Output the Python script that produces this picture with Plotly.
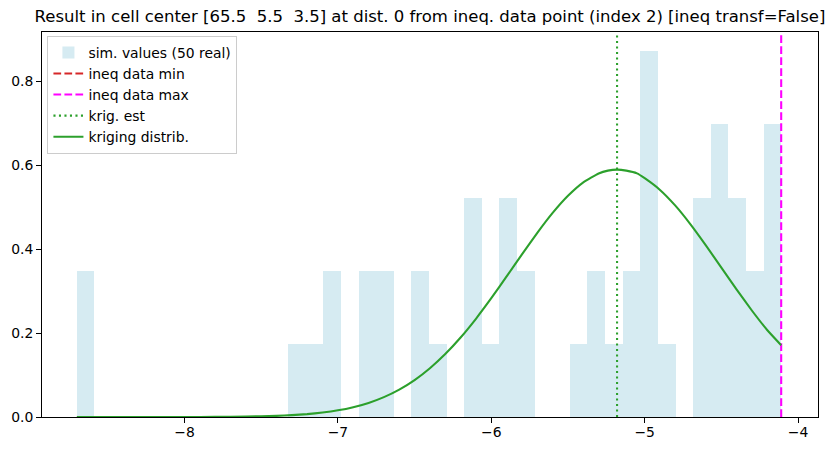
import plotly.graph_objects as go

# ---------------- data ----------------
n_real = 50
hist_min = -8.702
hist_max = -4.11
hist_counts = [2, 0, 0, 0, 0, 0, 0, 0, 0, 0, 0, 0, 1, 1, 2, 0, 2, 2, 0, 2,
               1, 0, 3, 1, 3, 2, 0, 0, 1, 2, 1, 2, 5, 1, 0, 3, 4, 3, 2, 4]

ineq_max = -4.11
krig_est = -5.18

krig_x = [-8.702, -8.5, -8.2, -8.0, -7.8, -7.6, -7.4, -7.3, -7.2, -7.1, -7.0,
          -6.9, -6.8, -6.7, -6.6, -6.5, -6.4, -6.3, -6.2, -6.1, -6.0, -5.9,
          -5.8, -5.7, -5.6, -5.5, -5.4, -5.3, -5.24, -5.18, -5.12, -5.05,
          -5.0, -4.9, -4.8, -4.7, -4.6, -4.5, -4.4, -4.3, -4.2, -4.11]
krig_y = [0.0, 0.0, 0.00003, 0.0001, 0.0003, 0.001, 0.0027, 0.0044, 0.0069,
          0.0106, 0.0159, 0.0234, 0.0336, 0.0474, 0.0653, 0.088, 0.1162,
          0.1499, 0.1893, 0.2339, 0.2828, 0.3346, 0.3873, 0.4385, 0.4859,
          0.5267, 0.5587, 0.5798, 0.5866, 0.589, 0.5866, 0.5801,
          0.5686, 0.5407, 0.5032, 0.4581, 0.4081, 0.3557, 0.3033, 0.253,
          0.2066, 0.171]

x_ticks = [-8, -7, -6, -5, -4]
y_ticks = [0.0, 0.2, 0.4, 0.6, 0.8]

title_text = "Result in cell center [65.5\u00a0\u00a05.5\u00a0\u00a03.5] at dist. 0 from ineq. data point (index 2) [ineq transf=False]"

# ---------------- derived ----------------
nb = len(hist_counts)
bw = (hist_max - hist_min) / nb
bar_x = [hist_min + (i + 0.5) * bw for i in range(nb)]
bar_y = [c / (n_real * bw) for c in hist_counts]

x_range = [-8.929, -3.87]
y_range = [0.0, 0.9167]

FONT = "DejaVu Sans"
LW = 2.08

fig = go.Figure()
fig.add_trace(go.Bar(
    x=bar_x, y=bar_y, width=bw,
    marker=dict(color="rgba(173,216,230,0.5)", line=dict(width=0)),
    name=f"sim. values ({n_real} real)", legendgroup="a"))
fig.add_trace(go.Scatter(
    x=[None], y=[None], mode="lines",
    line=dict(color="#d62728", width=LW, dash="7.7px,3.3px"),
    name="ineq data min", legendgroup="b"))
fig.add_trace(go.Scatter(
    x=[ineq_max, ineq_max], y=y_range, mode="lines",
    line=dict(color="#ff00ff", width=LW, dash="7.7px,3.3px"),
    name="ineq data max", legendgroup="c"))
fig.add_trace(go.Scatter(
    x=[krig_est, krig_est], y=y_range, mode="lines",
    line=dict(color="#2ca02c", width=LW, dash="2.1px,3.4px"),
    name="krig. est", legendgroup="d"))
fig.add_trace(go.Scatter(
    x=krig_x, y=krig_y, mode="lines",
    line=dict(color="#2ca02c", width=LW, shape="spline", smoothing=0.4),
    name="kriging distrib.", legendgroup="e"))

axis_common = dict(
    showline=True, linecolor="black", linewidth=1, mirror=True,
    ticks="outside", ticklen=5, tickwidth=1, tickcolor="black",
    showgrid=False, zeroline=False, automargin=False,
    tickfont=dict(family=FONT, size=13.9, color="black"),
)

fig.update_layout(
    width=836, height=451,
    margin=dict(l=42, r=18, t=32, b=34),
    paper_bgcolor="white", plot_bgcolor="white",
    bargap=0,
    title=dict(text=title_text, x=0.5143, xanchor="center", y=0.965, yanchor="middle",
               font=dict(family=FONT, size=16.5, color="black")),
    xaxis=dict(range=x_range, tickvals=x_ticks,
               ticktext=[("\u2212" + str(abs(v))) if v < 0 else str(v) for v in x_ticks],
               ticklabelstandoff=-3,
               **axis_common),
    yaxis=dict(range=y_range, tickvals=y_ticks,
               ticktext=[f"{v:.1f}" for v in y_ticks], **axis_common),
    legend=dict(x=0.007, y=0.99, xanchor="left", yanchor="top",
                bgcolor="white", bordercolor="#cccccc", borderwidth=1,
                font=dict(family=FONT, size=13.9, color="black"),
                itemwidth=30, tracegroupgap=2, traceorder="normal"),
    showlegend=True,
)

fig.write_html("out.html")
